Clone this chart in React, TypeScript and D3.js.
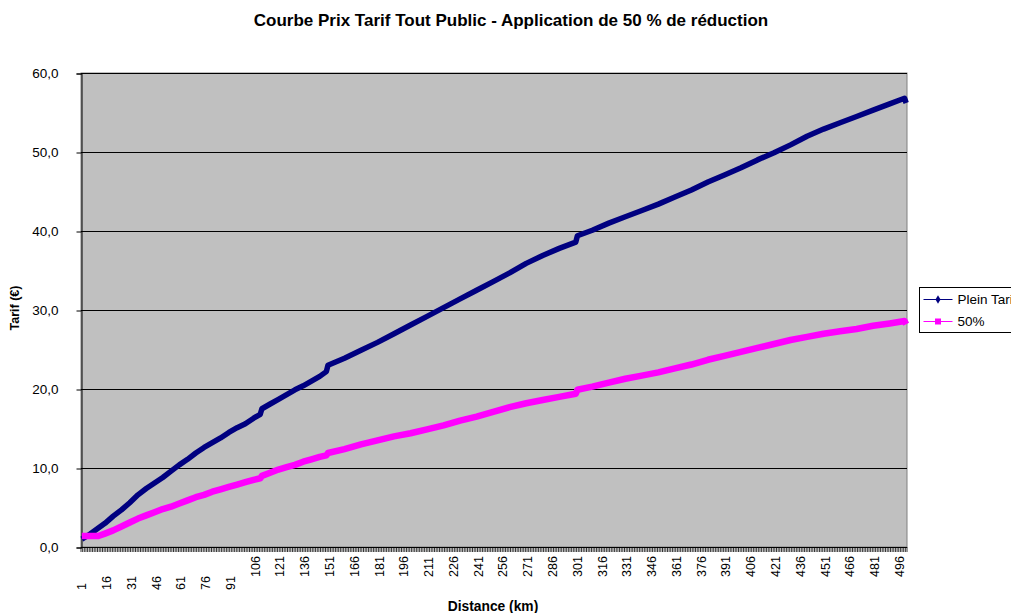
import React, { useEffect, useRef } from 'react'
import * as d3 from 'd3'

const distances = [1, 5, 11, 15, 20, 25, 30, 35, 40, 45, 50, 55, 60, 65, 70, 75, 80, 85, 90, 95,
  100, 105, 109, 110, 115, 120, 125, 130, 135, 140, 145, 149, 150, 160, 170, 180, 190, 200,
  210, 220, 230, 240, 250, 260, 270, 280, 290, 300, 301, 310, 320, 330, 340, 350, 360, 370,
  380, 390, 400, 410, 420, 430, 440, 450, 460, 470, 480, 490, 499, 500]

const pleinTarif = [1.0, 1.5, 2.4, 3.0, 3.9, 4.7, 5.6, 6.6, 7.4, 8.1, 8.8, 9.6, 10.4, 11.1, 11.9, 12.6, 13.2, 13.8, 14.5, 15.1,
  15.6, 16.3, 16.8, 17.5, 18.1, 18.7, 19.3, 19.9, 20.4, 21.0, 21.6, 22.2, 23.0, 23.9, 24.9, 25.9, 27.0, 28.1,
  29.2, 30.3, 31.4, 32.5, 33.6, 34.7, 35.9, 36.9, 37.8, 38.6, 39.4, 40.1, 41.0, 41.8, 42.6, 43.4, 44.3, 45.2,
  46.2, 47.1, 48.0, 49.0, 49.9, 50.9, 52.0, 52.9, 53.7, 54.5, 55.3, 56.1, 56.8, 56.2]

const demiTarif = [1.4, 1.4, 1.4, 1.7, 2.1, 2.6, 3.1, 3.6, 4.0, 4.4, 4.8, 5.1, 5.5, 5.9, 6.3, 6.6, 7.0, 7.3, 7.6, 7.9,
  8.2, 8.5, 8.7, 9.0, 9.4, 9.8, 10.1, 10.4, 10.8, 11.1, 11.4, 11.6, 11.9, 12.4, 13.0, 13.5, 14.0, 14.4,
  14.9, 15.4, 16.0, 16.5, 17.1, 17.7, 18.2, 18.6, 19.0, 19.4, 19.9, 20.3, 20.8, 21.3, 21.7, 22.1, 22.6, 23.1,
  23.7, 24.2, 24.7, 25.2, 25.7, 26.2, 26.6, 27.0, 27.3, 27.6, 28.0, 28.3, 28.6, 28.2]

const xLabels = [1, 16, 31, 46, 61, 76, 91, 106, 121, 136, 151, 166, 181, 196, 211, 226, 241, 256, 271, 286,
  301, 316, 331, 346, 361, 376, 391, 406, 421, 436, 451, 466, 481, 496]
const yTicks = [0, 10, 20, 30, 40, 50, 60]
const seriesNames = ['Plein Tarif', '50%']

const W = 1011
const H = 613
const FONT = '"Liberation Sans", Arial, sans-serif'

function App() {
  const ref = useRef<SVGSVGElement>(null)

  useEffect(() => {
    const svg = d3.select(ref.current)
    svg.selectAll('*').remove()

    const left = 81, right = 907, top = 73, bottom = 547
    const nCat = 500

    const x = d3.scaleLinear().domain([0.5, nCat + 0.5]).range([left, right])
    const y = d3.scaleLinear().domain([0, 60]).range([bottom, top])

    svg.append('rect').attr('width', W).attr('height', H).attr('fill', '#fff')

    // plot area
    svg.append('rect')
      .attr('x', left).attr('y', top)
      .attr('width', right - left).attr('height', bottom - top)
      .attr('fill', '#c0c0c0')
      .attr('stroke', '#808080')

    // gridlines
    svg.append('g').selectAll('line')
      .data(yTicks.filter(d => d > 0))
      .join('line')
      .attr('x1', left).attr('x2', right)
      .attr('y1', d => Math.round(y(d)) + 0.5).attr('y2', d => Math.round(y(d)) + 0.5)
      .attr('stroke', '#000')

    // y axis
    const yAxis = d3.axisLeft(y)
      .tickValues(yTicks)
      .tickSize(5)
      .tickPadding(18)
      .tickFormat(d => d3.format('.1f')(d as number).replace('.', ','))
    const ya = svg.append('g').attr('transform', `translate(${left + 0.5},0.5)`).call(yAxis)
    ya.select('.domain').attr('stroke', '#000')
    ya.selectAll('text').attr('font-family', FONT).attr('font-size', 13.5).attr('fill', '#000')

    // x axis line + ticks at every category boundary
    const xa = svg.append('g')
    xa.append('line')
      .attr('x1', left).attr('x2', right)
      .attr('y1', bottom + 0.5).attr('y2', bottom + 0.5)
      .attr('stroke', '#000')
    xa.selectAll('line.tk')
      .data(d3.range(0, nCat + 1))
      .join('line')
      .attr('class', 'tk')
      .attr('x1', d => x(d + 0.5)).attr('x2', d => x(d + 0.5))
      .attr('y1', bottom).attr('y2', bottom + 5)
      .attr('stroke', '#000')
      .attr('stroke-width', 0.8)

    xa.selectAll('text')
      .data(xLabels)
      .join('text')
      .attr('transform', d => `translate(${x(d)},${d < 100 ? 590 : 577}) rotate(-90)`)
      .attr('dy', '0.35em')
      .attr('text-anchor', 'start')
      .attr('font-family', FONT)
      .attr('font-size', 12.5)
      .text(d => d)

    // series
    const pts = (vals: number[]) => distances.map((k, i) => [k, vals[i]] as [number, number])
    const line = d3.line<[number, number]>().x(d => x(d[0])).y(d => y(d[1]))

    svg.append('path')
      .datum(pts(pleinTarif))
      .attr('d', line)
      .attr('fill', 'none')
      .attr('stroke', '#000080')
      .attr('stroke-width', 5.5)
      .attr('stroke-linejoin', 'round')

    svg.append('path')
      .datum(pts(demiTarif))
      .attr('d', line)
      .attr('fill', 'none')
      .attr('stroke', '#ff00ff')
      .attr('stroke-width', 6.5)
      .attr('stroke-linejoin', 'round')

    // titles
    svg.append('text')
      .attr('x', 511).attr('y', 26)
      .attr('text-anchor', 'middle')
      .attr('font-family', FONT).attr('font-weight', 'bold').attr('font-size', 17)
      .text('Courbe Prix Tarif Tout Public - Application de 50 % de réduction')

    svg.append('text')
      .attr('transform', 'translate(19,308) rotate(-90)')
      .attr('text-anchor', 'middle')
      .attr('font-family', FONT).attr('font-weight', 'bold').attr('font-size', 12.5)
      .text('Tarif (€)')

    svg.append('text')
      .attr('x', 493).attr('y', 611)
      .attr('text-anchor', 'middle')
      .attr('font-family', FONT).attr('font-weight', 'bold').attr('font-size', 13.8)
      .text('Distance (km)')

    // legend
    const lg = svg.append('g').attr('transform', 'translate(919.5,287.5)')
    lg.append('rect').attr('width', 120).attr('height', 45).attr('fill', '#fff').attr('stroke', '#000')
    const colors = ['#000080', '#ff00ff']
    seriesNames.forEach((name, i) => {
      const cy = 12 + i * 22
      lg.append('line').attr('x1', 4).attr('x2', 33).attr('y1', cy).attr('y2', cy)
        .attr('stroke', colors[i]).attr('stroke-width', 1)
      if (i === 0) {
        lg.append('path').attr('d', d3.symbol(d3.symbolDiamond, 22)()).attr('transform', `translate(18.5,${cy})`)
          .attr('fill', colors[i])
      } else {
        lg.append('rect').attr('x', 15.5).attr('y', cy - 3).attr('width', 6).attr('height', 6).attr('fill', colors[i])
      }
      lg.append('text').attr('x', 38).attr('y', cy).attr('dy', '0.35em')
        .attr('font-family', FONT).attr('font-size', 13.5)
        .text(name)
    })
  }, [])

  return (
    <svg ref={ref} width={W} height={H}
      style={{ position: 'absolute', left: 0, top: 0, display: 'block' }}>
    </svg>
  )
}

export default App
